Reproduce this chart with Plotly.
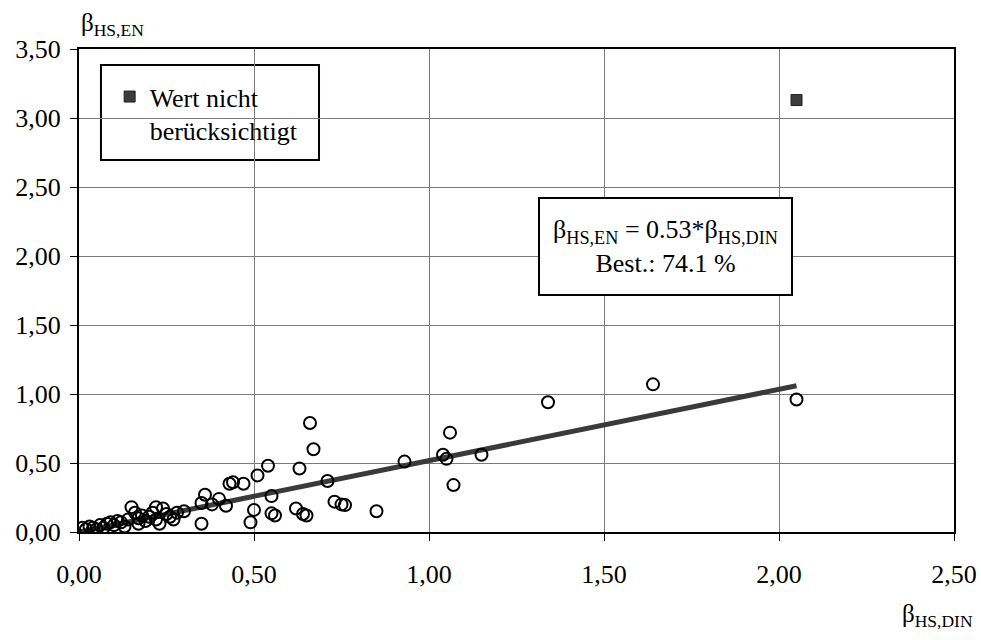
import plotly.graph_objects as go

# measured values (beta_HS,DIN vs beta_HS,EN)
din_values = [0.01, 0.02, 0.03, 0.04, 0.05, 0.06, 0.07, 0.08, 0.09, 0.10,
              0.11, 0.12, 0.13, 0.14, 0.15, 0.16, 0.17, 0.17, 0.18, 0.19,
              0.20, 0.21, 0.22, 0.22, 0.23, 0.24, 0.25, 0.26, 0.27, 0.28,
              0.30, 0.35, 0.35, 0.36, 0.38, 0.40, 0.42, 0.43, 0.44, 0.47,
              0.49, 0.50, 0.51, 0.54, 0.55, 0.55, 0.56, 0.62, 0.63, 0.64,
              0.65, 0.66, 0.67, 0.71, 0.73, 0.75, 0.76, 0.85, 0.93, 1.04,
              1.05, 1.06, 1.07, 1.15, 1.34, 1.64, 2.05]
en_values = [0.03, 0.02, 0.04, 0.03, 0.02, 0.05, 0.03, 0.06, 0.07, 0.05,
             0.08, 0.07, 0.04, 0.09, 0.18, 0.14, 0.10, 0.06, 0.12, 0.08,
             0.11, 0.14, 0.18, 0.09, 0.06, 0.17, 0.13, 0.11, 0.09, 0.14,
             0.15, 0.06, 0.21, 0.27, 0.20, 0.24, 0.19, 0.35, 0.36, 0.35,
             0.07, 0.16, 0.41, 0.48, 0.26, 0.135, 0.12, 0.17, 0.46, 0.13,
             0.12, 0.79, 0.60, 0.37, 0.22, 0.20, 0.195, 0.15, 0.51, 0.56,
             0.53, 0.72, 0.34, 0.56, 0.94, 1.07, 0.96]

# value not considered
excluded_din = [2.05]
excluded_en = [3.13]

# regression line
fit_din = [0.0, 2.05]
fit_en = [0.0, 1.06]

x_ticks = [0.0, 0.5, 1.0, 1.5, 2.0, 2.5]
y_ticks = [0.0, 0.5, 1.0, 1.5, 2.0, 2.5, 3.0, 3.5]

FONT = "Liberation Serif, Times New Roman, serif"

fig = go.Figure()
fig.add_trace(go.Scatter(
    x=fit_din, y=fit_en, mode="lines",
    line=dict(color="#3a3a3a", width=5), showlegend=False, hoverinfo="skip"))
fig.add_trace(go.Scatter(
    x=din_values, y=en_values, mode="markers",
    marker=dict(symbol="circle-open", size=12, color="black",
                line=dict(width=2, color="black")),
    showlegend=False))
fig.add_trace(go.Scatter(
    x=excluded_din, y=excluded_en, mode="markers",
    name="Wert nicht<br>berücksichtigt",
    marker=dict(symbol="square", size=11, color="#3c3c3c",
                line=dict(width=1, color="#222")),
    showlegend=True))

axis_common = dict(
    showgrid=True, gridcolor="#7a7a7a", gridwidth=1,
    showline=True, linecolor="black", linewidth=2, mirror=True,
    ticks="outside", ticklen=7, tickcolor="black", tickwidth=1,
    tickformat=".2f", zeroline=False, automargin=False,
    ticklabeloverflow="allow",
    tickfont=dict(family=FONT, size=26, color="black"),
)

# plot area at x 79..954, y 49..532 of the 981x640 window
fig.update_layout(
    width=981, height=640,
    margin=dict(l=79, r=27, t=49, b=108),
    paper_bgcolor="white", plot_bgcolor="white",
    separators=", ",
    font=dict(family=FONT, color="black"),
    xaxis=dict(range=[0, 2.5], tickvals=x_ticks, ticklabelstandoff=11, **axis_common),
    yaxis=dict(range=[0, 3.5], tickvals=y_ticks, ticklabelstandoff=4, **axis_common),
    legend=dict(
        x=0.035, y=0.950, xanchor="left", yanchor="top",
        bgcolor="rgba(0,0,0,0)", borderwidth=0,
        font=dict(family=FONT, size=26, color="black"),
        itemwidth=30, valign="top",
    ),
    shapes=[
        dict(type="rect", xref="paper", yref="paper",
             x0=0.0251, x1=0.2743, y0=0.770, y1=0.967,
             line=dict(color="black", width=2), fillcolor="white", layer="below"),
    ],
    annotations=[
        dict(text="β<sub>HS,EN</sub> = 0.53*β<sub>HS,DIN</sub><br>Best.: 74.1 %",
             xref="paper", yref="paper", x=0.67, y=0.592,
             xanchor="center", yanchor="middle", showarrow=False,
             font=dict(family=FONT, size=26, color="black"),
             bgcolor="white", bordercolor="black", borderwidth=2,
             width=249, height=93, align="center"),
        dict(text="β<sub>HS,EN</sub>", xref="paper", yref="paper",
             x=0.0, y=1.0, xanchor="left", yanchor="bottom", yshift=7,
             showarrow=False, font=dict(family=FONT, size=25, color="black")),
        dict(text="β<sub>HS,DIN</sub>", xref="paper", yref="paper",
             x=1.024, y=0.0, xanchor="right", yanchor="top", yshift=-66,
             showarrow=False, font=dict(family=FONT, size=25, color="black")),
    ],
)

fig.write_html("out.html",
               config={"displayModeBar": False},
               post_script="document.body.style.margin='0';document.body.style.overflow='hidden';")
